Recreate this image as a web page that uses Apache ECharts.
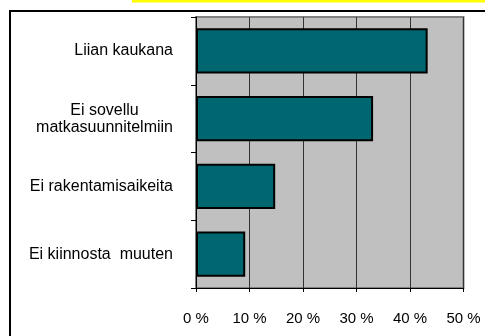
<!DOCTYPE html>
<html>
<head>
<meta charset="utf-8">
<script src="https://cdn.jsdelivr.net/npm/echarts@6/dist/echarts.min.js"></script>
<style>
  html, body { margin: 0; padding: 0; background: #ffffff; }
  #chart { width: 485px; height: 336px; }
</style>
</head>
<body>
<div id="chart"></div>
<script>
// Reasons given for not visiting (share of respondents, %)
const categories = [
  'Liian kaukana',
  'Ei sovellu\nmatkasuunnitelmiin',
  'Ei rakentamisaikeita',
  'Ei kiinnosta  muuten'
];
const shares = [43.3, 33.1, 14.8, 9.2];
const axisMax = 50;
const axisStep = 10;

const chart = echarts.init(document.getElementById('chart'), null, { renderer: 'canvas' });

const labelFont = 'Liberation Sans, Arial, sans-serif';

chart.setOption({
  animation: false,
  backgroundColor: '#ffffff',
  graphic: [
    // highlight strip along the top edge
    { type: 'rect', shape: { x: 132, y: 0, width: 353, height: 2.5 }, style: { fill: '#ffff00' }, silent: true },
    // frame around the chart area
    { type: 'line', shape: { x1: 9, y1: 11, x2: 485, y2: 11 }, style: { stroke: '#000', lineWidth: 2 }, silent: true },
    { type: 'line', shape: { x1: 10, y1: 10, x2: 10, y2: 336 }, style: { stroke: '#000', lineWidth: 2 }, silent: true }
  ],
  grid: {
    left: 196,
    top: 17,
    right: 21.5,
    bottom: 48,
    show: true,
    backgroundColor: '#c0c0c0',
    borderColor: '#808080',
    borderWidth: 2
  },
  xAxis: {
    type: 'value',
    min: 0,
    max: axisMax,
    interval: axisStep,
    axisLine: { show: true, lineStyle: { color: '#000', width: 1 } },
    axisTick: { show: true, length: 4, lineStyle: { color: '#000' } },
    splitLine: { show: true, lineStyle: { color: '#333', width: 1 } },
    axisLabel: {
      formatter: '{value} %',
      color: '#000',
      fontFamily: labelFont,
      fontSize: 15,
      margin: 23
    }
  },
  yAxis: {
    type: 'category',
    inverse: true,
    data: categories,
    axisLine: { show: true, lineStyle: { color: '#000', width: 1 } },
    axisTick: { show: true, length: 5, lineStyle: { color: '#000' } },
    splitLine: { show: false },
    axisLabel: {
      color: '#000',
      fontFamily: labelFont,
      fontSize: 16,
      margin: 23,
      lineHeight: 17,
      formatter: function (v) {
        return v.split('\n').map(function (s) { return '{c|' + s + '}'; }).join('\n');
      },
      rich: {
        c: { align: 'center', fontFamily: labelFont, fontSize: 16, color: '#000', lineHeight: 17 }
      }
    }
  },
  series: [{
    type: 'bar',
    data: shares,
    barCategoryGap: '33%',
    itemStyle: { color: '#006670', borderColor: '#000', borderWidth: 2 }
  }]
});
</script>
</body>
</html>
